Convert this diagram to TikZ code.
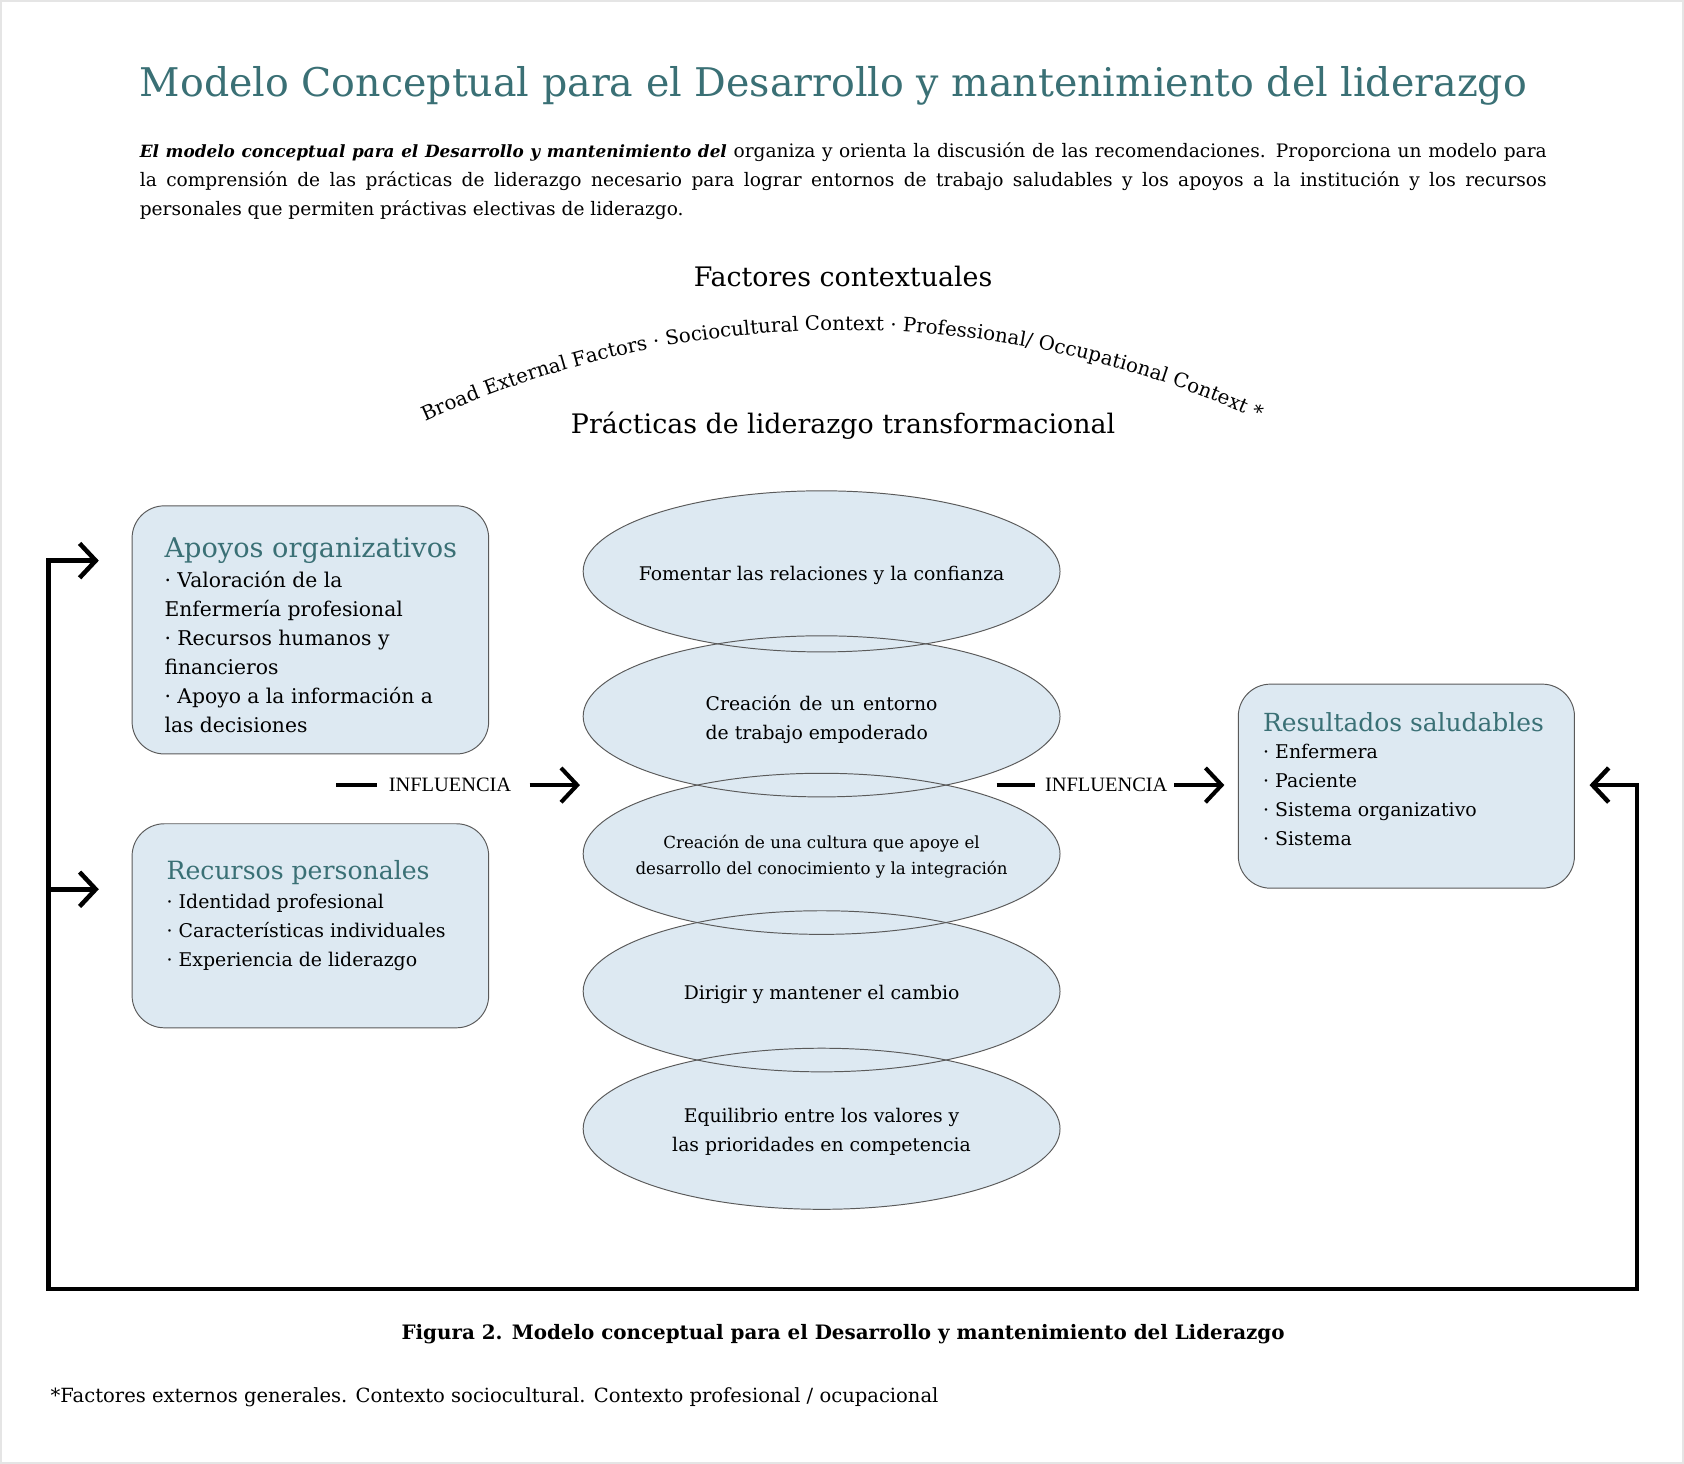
\documentclass[tikz,border=0pt]{standalone}
\usepackage{fontspec}
\setmainfont{DejaVu Serif}
\newfontfamily\timesfont{Liberation Serif}
\usetikzlibrary{arrows.meta,shapes.geometric,decorations.text}
\definecolor{tealtitle}{HTML}{3A7075}
\definecolor{boxfill}{HTML}{DDE9F2}
\definecolor{boxdraw}{HTML}{5A5A5A}
\newcommand{\fsz}[2]{\fontsize{#1}{#2}\selectfont}
\begin{document}
\begin{tikzpicture}[x=1pt,y=-1pt,
  roundbox/.style={draw=boxdraw, fill=boxfill, rounded corners=30pt, line width=0.9pt, inner sep=0pt},
  ellfill/.style={ellipse, fill=boxfill, minimum width=444pt, minimum height=150pt, inner sep=0pt},
  ellline/.style={draw=boxdraw, line width=0.9pt},
  boxhead/.style={anchor=base west, inner sep=0pt, text=tealtitle},
  boxitems/.style={anchor=north west, inner sep=0pt, align=left},
  elltext/.style={inner sep=0pt, font=\fsz{17.5}{27}},
  infl/.style={inner sep=0pt, font=\timesfont\fsz{19}{20}},
  thickline/.style={line width=3.8pt},
  fbline/.style={line width=4.2pt},
  barb/.style={-{Straight Barb[length=15pt,width=32pt]}}
]
\useasboundingbox (0,0) rectangle (1568,1363);
\draw[black!10, line width=1.5pt] (0.75,0.75) rectangle (1567.25,1362.25);

% title and paragraph
\node[anchor=west, inner sep=0pt, text=tealtitle, font=\fsz{36.8}{42}] (title) at (130,80)
  {Modelo Conceptual para el Desarrollo y mantenimiento del liderazgo};
\node[anchor=north west, inner sep=0pt, align=left, font=\fsz{17.3}{27}] (para) at (130,133)
  {\makebox[1310pt][s]{{\fontsize{15.7}{27}\selectfont\textbf{\textit{El modelo conceptual para el Desarrollo y mantenimiento del}}} organiza y orienta la discusión de las recomendaciones. Proporciona un modelo para}\\
   \makebox[1310pt][s]{la comprensión de las prácticas de liderazgo necesario para lograr entornos de trabajo saludables y los apoyos a la institución y los recursos}\\
   personales que permiten práctivas electivas de liderazgo.};

% headings
\node[inner sep=0pt, font=\fsz{25}{28}] (fact) at (785,257) {Factores contextuales};
\node[inner sep=0pt, font=\fsz{25}{28}] (prac) at (785,396) {Prácticas de liderazgo transformacional};
\coordinate (arcL) at (360,410);
\coordinate (arcR) at (1208,408);
\path[decorate, decoration={text along path, text align=center,
  text={|\fsz{18.4}{20}|Broad External Factors · Sociocultural Context · Professional/ Occupational Context *}}]
  (arcL) .. controls (627,274) and (941,273) .. (arcR);

% left boxes
\node[roundbox, minimum width=332pt, minimum height=231pt] (apoyos) at (289,586.5) {};
\node[boxhead, font=\fsz{25.3}{28}] (apoyosH) at (153,519) {Apoyos organizativos};
\node[boxitems, font=\fsz{18.9}{27}] (apoyosI) at (153,532) {· Valoración de la\\Enfermería profesional\\· Recursos humanos y\\financieros\\· Apoyo a la información a\\las decisiones};

\node[roundbox, minimum width=332pt, minimum height=190pt] (recursos) at (289,862) {};
\node[boxhead, font=\fsz{23.4}{28}] (recursosH) at (155,819) {Recursos personales};
\node[boxitems, font=\fsz{17.6}{27}] (recursosI) at (155,832) {· Identidad profesional\\· Características individuales\\· Experiencia de liderazgo};

% right box
\node[roundbox, minimum width=313pt, minimum height=190pt] (result) at (1309.5,732) {};
\node[boxhead, font=\fsz{23.2}{28}] (resultH) at (1176,681) {Resultados saludables};
\node[boxitems, font=\fsz{17.6}{27}] (resultI) at (1176,693) {· Enfermera\\· Paciente\\· Sistema organizativo\\· Sistema};

% ellipses: fills first
\node[ellfill] (e1) at (765,532) {};
\node[ellfill] (e2) at (765,667) {};
\node[ellfill] (e3) at (765,795) {};
\node[ellfill] (e4) at (765,923) {};
\node[ellfill] (e5) at (765,1051) {};
\foreach \e in {e1,e2,e3,e4,e5}{
  \draw[ellline] (\e.center) ellipse [x radius=222, y radius=75];
}
\node[elltext] (t1) at (765,536) {Fomentar las relaciones y la confianza};
\node[elltext, align=left] (t2) at (765,670) {Creación\hspace{2pt} de\hspace{2pt} un\hspace{2pt} entorno\\de trabajo empoderado};
\node[elltext, align=center, font=\fsz{15.5}{24}] (t3) at (765,798) {Creación de una cultura que apoye el\\desarrollo del conocimiento y la integración};
\node[elltext] (t4) at (765,926) {Dirigir y mantener el cambio};
\node[elltext, align=center] (t5) at (765,1054) {Equilibrio entre los valores y\\las prioridades en competencia};

% influence arrows
\node[infl] (inf1) at (419,731) {INFLUENCIA};
\coordinate (d1) at (313,731);
\coordinate (tip1) at (540,731);
\draw[thickline] (d1) -- ([xshift=-11pt]inf1.west);
\draw[thickline, barb] ([xshift=17pt]inf1.east) -- (tip1);

\node[infl] (inf2) at (1030,731) {INFLUENCIA};
\coordinate (d2) at (928,731);
\coordinate (tip2) at (1140,731);
\draw[thickline] (d2) -- ([xshift=-9pt]inf2.west);
\draw[thickline, barb] ([xshift=6pt]inf2.east) -- (tip2);

% feedback loop
\coordinate (tipR) at (1480,731);
\coordinate (fbBR) at (1524,1200);
\coordinate (fbTL) at (45,522);
\coordinate (tipL1) at (92,522);
\coordinate (fbMid) at (45,828);
\coordinate (tipL2) at (92,828);
\draw[fbline, {Straight Barb[length=15pt,width=32pt]}-{Straight Barb[length=15pt,width=32pt]}] (tipR) -| (fbBR) -| (fbTL) -- (tipL1);
\draw[fbline, barb] (fbMid) -- (tipL2);

% caption and footnote
\node[inner sep=0pt, font=\bfseries\fsz{18.5}{22}] (cap) at (785,1242) {Figura 2. Modelo conceptual para el Desarrollo y mantenimiento del Liderazgo};
\node[anchor=west, inner sep=0pt, font=\fsz{18.2}{20}] (foot) at (47,1301) {*Factores externos generales. Contexto sociocultural. Contexto profesional / ocupacional};
\end{tikzpicture}
\end{document}
